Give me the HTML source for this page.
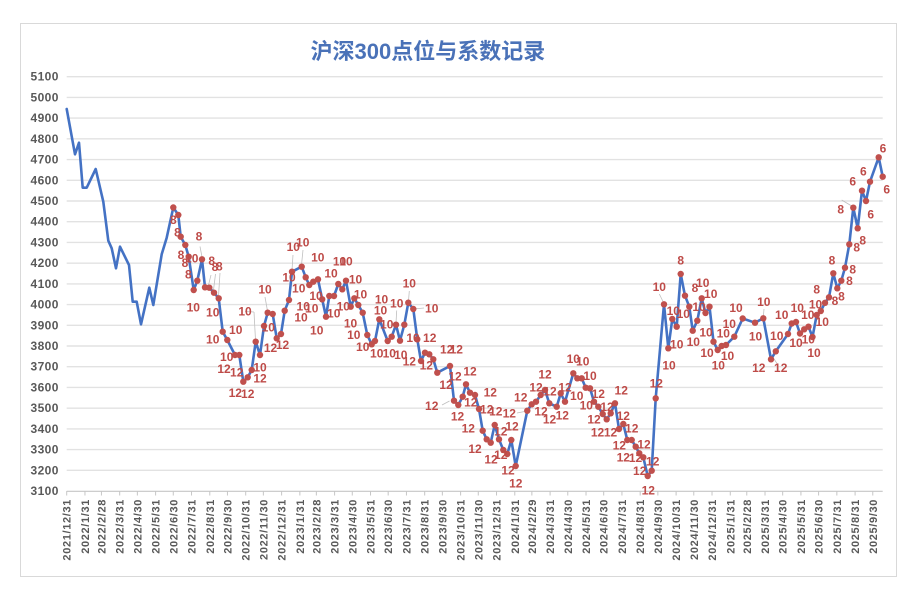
<!DOCTYPE html>
<html><head><meta charset="utf-8"><style>
html,body{margin:0;padding:0;background:#fff;}
svg{display:block;}
#lbl text{dominant-baseline:central;}
#yl text{dominant-baseline:central;}
</style></head><body>
<svg width="920" height="600" viewBox="0 0 920 600" xmlns="http://www.w3.org/2000/svg">
<rect x="0" y="0" width="920" height="600" fill="#fff"/>
<rect x="20.5" y="23.5" width="876" height="553" fill="#fff" stroke="#D9D9D9" stroke-width="1"/>
<text x="310.5" y="59" font-family="'Liberation Sans','Noto Sans CJK SC',sans-serif" font-size="22" font-weight="bold" fill="#4A72B8">沪深300点位与系数记录</text>
<g stroke="#E2E2E2" stroke-width="1.4">
<line x1="66.7" y1="76.7" x2="882.7" y2="76.7"/>
<line x1="66.7" y1="97.4" x2="882.7" y2="97.4"/>
<line x1="66.7" y1="118.1" x2="882.7" y2="118.1"/>
<line x1="66.7" y1="138.85" x2="882.7" y2="138.85"/>
<line x1="66.7" y1="159.6" x2="882.7" y2="159.6"/>
<line x1="66.7" y1="180.3" x2="882.7" y2="180.3"/>
<line x1="66.7" y1="201" x2="882.7" y2="201"/>
<line x1="66.7" y1="221.7" x2="882.7" y2="221.7"/>
<line x1="66.7" y1="242.4" x2="882.7" y2="242.4"/>
<line x1="66.7" y1="263.15" x2="882.7" y2="263.15"/>
<line x1="66.7" y1="283.9" x2="882.7" y2="283.9"/>
<line x1="66.7" y1="304.6" x2="882.7" y2="304.6"/>
<line x1="66.7" y1="325.3" x2="882.7" y2="325.3"/>
<line x1="66.7" y1="346" x2="882.7" y2="346"/>
<line x1="66.7" y1="366.7" x2="882.7" y2="366.7"/>
<line x1="66.7" y1="387.45" x2="882.7" y2="387.45"/>
<line x1="66.7" y1="408.2" x2="882.7" y2="408.2"/>
<line x1="66.7" y1="428.9" x2="882.7" y2="428.9"/>
<line x1="66.7" y1="449.6" x2="882.7" y2="449.6"/>
<line x1="66.7" y1="470.3" x2="882.7" y2="470.3"/>
</g>
<line x1="66.7" y1="491.3" x2="882.7" y2="491.3" stroke="#C6C6C6" stroke-width="1.2"/>
<g stroke="#C6C6C6" stroke-width="1">
<line x1="66.7" y1="491" x2="66.7" y2="495.5"/><line x1="84.95" y1="491" x2="84.95" y2="495.5"/><line x1="101.44" y1="491" x2="101.44" y2="495.5"/><line x1="119.69" y1="491" x2="119.69" y2="495.5"/><line x1="137.36" y1="491" x2="137.36" y2="495.5"/><line x1="155.61" y1="491" x2="155.61" y2="495.5"/><line x1="173.27" y1="491" x2="173.27" y2="495.5"/><line x1="191.53" y1="491" x2="191.53" y2="495.5"/><line x1="209.78" y1="491" x2="209.78" y2="495.5"/><line x1="227.44" y1="491" x2="227.44" y2="495.5"/><line x1="245.7" y1="491" x2="245.7" y2="495.5"/><line x1="263.36" y1="491" x2="263.36" y2="495.5"/><line x1="281.61" y1="491" x2="281.61" y2="495.5"/><line x1="299.86" y1="491" x2="299.86" y2="495.5"/><line x1="316.35" y1="491" x2="316.35" y2="495.5"/><line x1="334.6" y1="491" x2="334.6" y2="495.5"/><line x1="352.27" y1="491" x2="352.27" y2="495.5"/><line x1="370.52" y1="491" x2="370.52" y2="495.5"/><line x1="388.18" y1="491" x2="388.18" y2="495.5"/><line x1="406.44" y1="491" x2="406.44" y2="495.5"/><line x1="424.69" y1="491" x2="424.69" y2="495.5"/><line x1="442.35" y1="491" x2="442.35" y2="495.5"/><line x1="460.61" y1="491" x2="460.61" y2="495.5"/><line x1="478.27" y1="491" x2="478.27" y2="495.5"/><line x1="496.52" y1="491" x2="496.52" y2="495.5"/><line x1="514.78" y1="491" x2="514.78" y2="495.5"/><line x1="531.86" y1="491" x2="531.86" y2="495.5"/><line x1="550.1" y1="491" x2="550.1" y2="495.5"/><line x1="567.77" y1="491" x2="567.77" y2="495.5"/><line x1="586.02" y1="491" x2="586.02" y2="495.5"/><line x1="603.69" y1="491" x2="603.69" y2="495.5"/><line x1="621.94" y1="491" x2="621.94" y2="495.5"/><line x1="640.19" y1="491" x2="640.19" y2="495.5"/><line x1="657.86" y1="491" x2="657.86" y2="495.5"/><line x1="676.11" y1="491" x2="676.11" y2="495.5"/><line x1="693.77" y1="491" x2="693.77" y2="495.5"/><line x1="712.02" y1="491" x2="712.02" y2="495.5"/><line x1="730.28" y1="491" x2="730.28" y2="495.5"/><line x1="746.77" y1="491" x2="746.77" y2="495.5"/><line x1="765.02" y1="491" x2="765.02" y2="495.5"/><line x1="782.68" y1="491" x2="782.68" y2="495.5"/><line x1="800.93" y1="491" x2="800.93" y2="495.5"/><line x1="818.6" y1="491" x2="818.6" y2="495.5"/><line x1="836.85" y1="491" x2="836.85" y2="495.5"/><line x1="855.1" y1="491" x2="855.1" y2="495.5"/><line x1="872.77" y1="491" x2="872.77" y2="495.5"/>
</g>
<g id="yl" font-family="'Liberation Sans',sans-serif" font-size="12" font-weight="bold" fill="#595959" text-anchor="end" letter-spacing="0.4">
<text x="58.8" y="76.7">5100</text><text x="58.8" y="97.4">5000</text><text x="58.8" y="118.1">4900</text><text x="58.8" y="138.85">4800</text><text x="58.8" y="159.6">4700</text><text x="58.8" y="180.3">4600</text><text x="58.8" y="201">4500</text><text x="58.8" y="221.7">4400</text><text x="58.8" y="242.4">4300</text><text x="58.8" y="263.15">4200</text><text x="58.8" y="283.9">4100</text><text x="58.8" y="304.6">4000</text><text x="58.8" y="325.3">3900</text><text x="58.8" y="346">3800</text><text x="58.8" y="366.7">3700</text><text x="58.8" y="387.45">3600</text><text x="58.8" y="408.2">3500</text><text x="58.8" y="428.9">3400</text><text x="58.8" y="449.6">3300</text><text x="58.8" y="470.3">3200</text><text x="58.8" y="491">3100</text>
</g>
<g font-family="'Liberation Sans',sans-serif" font-size="11" font-weight="bold" fill="#595959" text-anchor="end" letter-spacing="0.65">
<text transform="translate(70.7,499) rotate(-90)">2021/12/31</text>
<text transform="translate(88.95,499) rotate(-90)">2022/1/31</text>
<text transform="translate(105.44,499) rotate(-90)">2022/2/28</text>
<text transform="translate(123.69,499) rotate(-90)">2022/3/31</text>
<text transform="translate(141.36,499) rotate(-90)">2022/4/30</text>
<text transform="translate(159.61,499) rotate(-90)">2022/5/31</text>
<text transform="translate(177.27,499) rotate(-90)">2022/6/30</text>
<text transform="translate(195.53,499) rotate(-90)">2022/7/31</text>
<text transform="translate(213.78,499) rotate(-90)">2022/8/31</text>
<text transform="translate(231.44,499) rotate(-90)">2022/9/30</text>
<text transform="translate(249.7,499) rotate(-90)">2022/10/31</text>
<text transform="translate(267.36,499) rotate(-90)">2022/11/30</text>
<text transform="translate(285.61,499) rotate(-90)">2022/12/31</text>
<text transform="translate(303.86,499) rotate(-90)">2023/1/31</text>
<text transform="translate(320.35,499) rotate(-90)">2023/2/28</text>
<text transform="translate(338.6,499) rotate(-90)">2023/3/31</text>
<text transform="translate(356.27,499) rotate(-90)">2023/4/30</text>
<text transform="translate(374.52,499) rotate(-90)">2023/5/31</text>
<text transform="translate(392.18,499) rotate(-90)">2023/6/30</text>
<text transform="translate(410.44,499) rotate(-90)">2023/7/31</text>
<text transform="translate(428.69,499) rotate(-90)">2023/8/31</text>
<text transform="translate(446.35,499) rotate(-90)">2023/9/30</text>
<text transform="translate(464.61,499) rotate(-90)">2023/10/31</text>
<text transform="translate(482.27,499) rotate(-90)">2023/11/30</text>
<text transform="translate(500.52,499) rotate(-90)">2023/12/31</text>
<text transform="translate(518.78,499) rotate(-90)">2024/1/31</text>
<text transform="translate(535.86,499) rotate(-90)">2024/2/29</text>
<text transform="translate(554.1,499) rotate(-90)">2024/3/31</text>
<text transform="translate(571.77,499) rotate(-90)">2024/4/30</text>
<text transform="translate(590.02,499) rotate(-90)">2024/5/31</text>
<text transform="translate(607.69,499) rotate(-90)">2024/6/30</text>
<text transform="translate(625.94,499) rotate(-90)">2024/7/31</text>
<text transform="translate(644.19,499) rotate(-90)">2024/8/31</text>
<text transform="translate(661.86,499) rotate(-90)">2024/9/30</text>
<text transform="translate(680.11,499) rotate(-90)">2024/10/31</text>
<text transform="translate(697.77,499) rotate(-90)">2024/11/30</text>
<text transform="translate(716.02,499) rotate(-90)">2024/12/31</text>
<text transform="translate(734.28,499) rotate(-90)">2025/1/31</text>
<text transform="translate(750.77,499) rotate(-90)">2025/2/28</text>
<text transform="translate(769.02,499) rotate(-90)">2025/3/31</text>
<text transform="translate(786.68,499) rotate(-90)">2025/4/30</text>
<text transform="translate(804.93,499) rotate(-90)">2025/5/31</text>
<text transform="translate(822.6,499) rotate(-90)">2025/6/30</text>
<text transform="translate(840.85,499) rotate(-90)">2025/7/31</text>
<text transform="translate(859.1,499) rotate(-90)">2025/8/31</text>
<text transform="translate(876.77,499) rotate(-90)">2025/9/30</text>
</g>
<g stroke="#BFBFBF" stroke-width="0.8" fill="none">
<line x1="841.7" y1="200" x2="851.7" y2="206"/>
<line x1="200" y1="246.5" x2="202" y2="257"/>
<line x1="211" y1="275" x2="208.5" y2="285"/>
<line x1="215.5" y1="274" x2="213.5" y2="290"/>
<line x1="220" y1="273" x2="218.5" y2="296"/>
<line x1="293" y1="255" x2="292" y2="270"/>
<line x1="303" y1="250" x2="301.5" y2="265"/>
<line x1="245" y1="311.5" x2="254" y2="312"/>
<line x1="254" y1="312" x2="255.5" y2="340"/>
<line x1="265" y1="297" x2="267.5" y2="311"/>
<line x1="409.3" y1="291" x2="408.5" y2="301"/>
<line x1="396.7" y1="310.5" x2="396" y2="323"/>
<line x1="424" y1="308" x2="413.5" y2="309"/>
<line x1="659.3" y1="294" x2="663.5" y2="302.5"/>
<line x1="764" y1="309" x2="763.3" y2="317"/>
<line x1="772" y1="356" x2="778" y2="365"/>
<line x1="517" y1="413" x2="527" y2="411"/>
<line x1="442" y1="405" x2="449.5" y2="401"/>
</g>
<polyline fill="none" stroke="#4472C4" stroke-width="2.6" stroke-linejoin="round" stroke-linecap="round" points="66.7,109 75,154.3 79,142.7 82.7,187.7 86.7,187.7 95.7,169 103.3,201.7 108.3,240.7 111.7,248.3 116,268.3 120,246.7 129,265 132.7,301.7 136.7,301.7 141,324.3 149.3,287.7 153.3,305 161.7,254.3 166.7,237.7 173.3,207.5 178.3,215 180.7,236.7 185.3,245 188.7,256.7 193.7,290 197.3,280.7 202,259.3 205,287.3 209.3,287.7 214,292.7 218.7,298.3 222.7,331.7 227.3,340 235,355 239.3,355 243.3,381.7 247.7,377.3 251.7,370 255.7,341.7 260,355 264,326 267.7,312.7 272.7,314 276.7,338.3 281,334 284.7,310.7 289,300 292,271.7 301.7,266.7 305.7,277.3 309.3,285 313.3,281.7 318,279.3 322.2,299.3 326,316.7 329.3,296 334,296 338.3,284 342.3,289.3 346,280.7 350.7,306.7 354.3,298.3 358.3,305 362.7,312.7 367.3,335 371.7,344.3 375,341 379.3,319.3 387.7,341 391.7,336.7 396,324.7 400,340.7 404.3,324.7 408.3,302.7 413.3,309 417.3,339.3 421,361 425,352.7 429.3,354.3 433.3,359.3 437.3,372.7 450,366 454,400.7 458.3,405 462.7,396.7 466,384.3 470,392.7 475,395 479,409 482.7,430.7 486.7,439.3 490.7,442.7 494.7,425 499,439.3 503.3,450 507.3,454 511.3,440 515.7,466 527.3,410.7 531.7,404.3 536,401.7 540.7,395 545,390 549.3,403.3 556.7,406.7 560.7,393.3 565,401.7 573.3,373.3 577.3,378.3 581.7,378.3 585.7,387.7 590,388.3 594,401.7 598.3,406.7 602.7,414 606.7,419.3 610.7,413.3 615,403.3 619,429 623.3,424 627.3,440 631.7,440 635.7,446.7 639.3,453.3 643.3,457.3 647.7,476 651.7,470.7 655.7,398.3 664,304.3 668.3,348.3 672.3,319 676.7,326.7 680.7,274 685,295.7 689.3,306.7 692.7,330.7 697.3,320.7 701.7,298.3 705.5,313 709.5,306.7 713.5,341.7 717.7,350 721.7,346 726,345 734.3,336.7 742.7,318.5 755,322.7 763.3,318.3 771,359.3 775.8,351.3 788,334 791.7,323.5 796,322 800,333.5 804.2,329.3 808.5,326.7 812.5,337 816.7,315 820.8,311 825,302.8 829,297.3 833.3,273.3 837.3,288.3 841.3,280.7 845,267.7 849.3,244.3 853.3,207.7 857.7,228.3 862,190.7 866,201 870,181.7 878.7,157.3 882.7,176.7"/>
<g fill="#C0504D">
<circle cx="173.3" cy="207.5" r="3.2"/><circle cx="178.3" cy="215" r="3.2"/><circle cx="180.7" cy="236.7" r="3.2"/><circle cx="185.3" cy="245" r="3.2"/><circle cx="188.7" cy="256.7" r="3.2"/><circle cx="193.7" cy="290" r="3.2"/><circle cx="197.3" cy="280.7" r="3.2"/><circle cx="202" cy="259.3" r="3.2"/><circle cx="205" cy="287.3" r="3.2"/><circle cx="209.3" cy="287.7" r="3.2"/><circle cx="214" cy="292.7" r="3.2"/><circle cx="218.7" cy="298.3" r="3.2"/><circle cx="222.7" cy="331.7" r="3.2"/><circle cx="227.3" cy="340" r="3.2"/><circle cx="235" cy="355" r="3.2"/><circle cx="239.3" cy="355" r="3.2"/><circle cx="243.3" cy="381.7" r="3.2"/><circle cx="247.7" cy="377.3" r="3.2"/><circle cx="251.7" cy="370" r="3.2"/><circle cx="255.7" cy="341.7" r="3.2"/><circle cx="260" cy="355" r="3.2"/><circle cx="264" cy="326" r="3.2"/><circle cx="267.7" cy="312.7" r="3.2"/><circle cx="272.7" cy="314" r="3.2"/><circle cx="276.7" cy="338.3" r="3.2"/><circle cx="281" cy="334" r="3.2"/><circle cx="284.7" cy="310.7" r="3.2"/><circle cx="289" cy="300" r="3.2"/><circle cx="292" cy="271.7" r="3.2"/><circle cx="301.7" cy="266.7" r="3.2"/><circle cx="305.7" cy="277.3" r="3.2"/><circle cx="309.3" cy="285" r="3.2"/><circle cx="313.3" cy="281.7" r="3.2"/><circle cx="318" cy="279.3" r="3.2"/><circle cx="322.2" cy="299.3" r="3.2"/><circle cx="326" cy="316.7" r="3.2"/><circle cx="329.3" cy="296" r="3.2"/><circle cx="334" cy="296" r="3.2"/><circle cx="338.3" cy="284" r="3.2"/><circle cx="342.3" cy="289.3" r="3.2"/><circle cx="346" cy="280.7" r="3.2"/><circle cx="350.7" cy="306.7" r="3.2"/><circle cx="354.3" cy="298.3" r="3.2"/><circle cx="358.3" cy="305" r="3.2"/><circle cx="362.7" cy="312.7" r="3.2"/><circle cx="367.3" cy="335" r="3.2"/><circle cx="371.7" cy="344.3" r="3.2"/><circle cx="375" cy="341" r="3.2"/><circle cx="379.3" cy="319.3" r="3.2"/><circle cx="387.7" cy="341" r="3.2"/><circle cx="391.7" cy="336.7" r="3.2"/><circle cx="396" cy="324.7" r="3.2"/><circle cx="400" cy="340.7" r="3.2"/><circle cx="404.3" cy="324.7" r="3.2"/><circle cx="408.3" cy="302.7" r="3.2"/><circle cx="413.3" cy="309" r="3.2"/><circle cx="417.3" cy="339.3" r="3.2"/><circle cx="421" cy="361" r="3.2"/><circle cx="425" cy="352.7" r="3.2"/><circle cx="429.3" cy="354.3" r="3.2"/><circle cx="433.3" cy="359.3" r="3.2"/><circle cx="437.3" cy="372.7" r="3.2"/><circle cx="450" cy="366" r="3.2"/><circle cx="454" cy="400.7" r="3.2"/><circle cx="458.3" cy="405" r="3.2"/><circle cx="462.7" cy="396.7" r="3.2"/><circle cx="466" cy="384.3" r="3.2"/><circle cx="470" cy="392.7" r="3.2"/><circle cx="475" cy="395" r="3.2"/><circle cx="479" cy="409" r="3.2"/><circle cx="482.7" cy="430.7" r="3.2"/><circle cx="486.7" cy="439.3" r="3.2"/><circle cx="490.7" cy="442.7" r="3.2"/><circle cx="494.7" cy="425" r="3.2"/><circle cx="499" cy="439.3" r="3.2"/><circle cx="503.3" cy="450" r="3.2"/><circle cx="507.3" cy="454" r="3.2"/><circle cx="511.3" cy="440" r="3.2"/><circle cx="515.7" cy="466" r="3.2"/><circle cx="527.3" cy="410.7" r="3.2"/><circle cx="531.7" cy="404.3" r="3.2"/><circle cx="536" cy="401.7" r="3.2"/><circle cx="540.7" cy="395" r="3.2"/><circle cx="545" cy="390" r="3.2"/><circle cx="549.3" cy="403.3" r="3.2"/><circle cx="556.7" cy="406.7" r="3.2"/><circle cx="560.7" cy="393.3" r="3.2"/><circle cx="565" cy="401.7" r="3.2"/><circle cx="573.3" cy="373.3" r="3.2"/><circle cx="577.3" cy="378.3" r="3.2"/><circle cx="581.7" cy="378.3" r="3.2"/><circle cx="585.7" cy="387.7" r="3.2"/><circle cx="590" cy="388.3" r="3.2"/><circle cx="594" cy="401.7" r="3.2"/><circle cx="598.3" cy="406.7" r="3.2"/><circle cx="602.7" cy="414" r="3.2"/><circle cx="606.7" cy="419.3" r="3.2"/><circle cx="610.7" cy="413.3" r="3.2"/><circle cx="615" cy="403.3" r="3.2"/><circle cx="619" cy="429" r="3.2"/><circle cx="623.3" cy="424" r="3.2"/><circle cx="627.3" cy="440" r="3.2"/><circle cx="631.7" cy="440" r="3.2"/><circle cx="635.7" cy="446.7" r="3.2"/><circle cx="639.3" cy="453.3" r="3.2"/><circle cx="643.3" cy="457.3" r="3.2"/><circle cx="647.7" cy="476" r="3.2"/><circle cx="651.7" cy="470.7" r="3.2"/><circle cx="655.7" cy="398.3" r="3.2"/><circle cx="664" cy="304.3" r="3.2"/><circle cx="668.3" cy="348.3" r="3.2"/><circle cx="672.3" cy="319" r="3.2"/><circle cx="676.7" cy="326.7" r="3.2"/><circle cx="680.7" cy="274" r="3.2"/><circle cx="685" cy="295.7" r="3.2"/><circle cx="689.3" cy="306.7" r="3.2"/><circle cx="692.7" cy="330.7" r="3.2"/><circle cx="697.3" cy="320.7" r="3.2"/><circle cx="701.7" cy="298.3" r="3.2"/><circle cx="705.5" cy="313" r="3.2"/><circle cx="709.5" cy="306.7" r="3.2"/><circle cx="713.5" cy="341.7" r="3.2"/><circle cx="717.7" cy="350" r="3.2"/><circle cx="721.7" cy="346" r="3.2"/><circle cx="726" cy="345" r="3.2"/><circle cx="734.3" cy="336.7" r="3.2"/><circle cx="742.7" cy="318.5" r="3.2"/><circle cx="755" cy="322.7" r="3.2"/><circle cx="763.3" cy="318.3" r="3.2"/><circle cx="771" cy="359.3" r="3.2"/><circle cx="775.8" cy="351.3" r="3.2"/><circle cx="788" cy="334" r="3.2"/><circle cx="791.7" cy="323.5" r="3.2"/><circle cx="796" cy="322" r="3.2"/><circle cx="800" cy="333.5" r="3.2"/><circle cx="804.2" cy="329.3" r="3.2"/><circle cx="808.5" cy="326.7" r="3.2"/><circle cx="812.5" cy="337" r="3.2"/><circle cx="816.7" cy="315" r="3.2"/><circle cx="820.8" cy="311" r="3.2"/><circle cx="825" cy="302.8" r="3.2"/><circle cx="829" cy="297.3" r="3.2"/><circle cx="833.3" cy="273.3" r="3.2"/><circle cx="837.3" cy="288.3" r="3.2"/><circle cx="841.3" cy="280.7" r="3.2"/><circle cx="845" cy="267.7" r="3.2"/><circle cx="849.3" cy="244.3" r="3.2"/><circle cx="853.3" cy="207.7" r="3.2"/><circle cx="857.7" cy="228.3" r="3.2"/><circle cx="862" cy="190.7" r="3.2"/><circle cx="866" cy="201" r="3.2"/><circle cx="870" cy="181.7" r="3.2"/><circle cx="878.7" cy="157.3" r="3.2"/><circle cx="882.7" cy="176.7" r="3.2"/>
</g>
<g id="lbl" font-family="'Liberation Sans',sans-serif" font-size="12" font-weight="bold" fill="#BE4B48" text-anchor="middle">
<text x="173.3" y="220">8</text><text x="177.5" y="232.7">8</text><text x="181" y="255">8</text><text x="185" y="263">8</text><text x="191.7" y="258.3">10</text><text x="188.3" y="274.5">8</text><text x="199" y="236.7">8</text><text x="211.7" y="261">8</text><text x="215" y="267">8</text><text x="219.3" y="266.5">8</text>
<text x="193.3" y="307.3">10</text><text x="212.7" y="312.7">10</text><text x="212.7" y="339.3">10</text><text x="235.7" y="330">10</text><text x="245" y="311.7">10</text><text x="226.7" y="357">10</text>
<text x="224" y="369">12</text><text x="236.7" y="372.7">12</text><text x="235.3" y="393">12</text><text x="247.7" y="394">12</text><text x="260" y="367.5">10</text><text x="260" y="378.7">12</text><text x="265" y="289.5">10</text><text x="268.3" y="327.7">10</text><text x="270.5" y="348">12</text><text x="282.5" y="345">12</text>
<text x="293.3" y="247">10</text><text x="302.7" y="242.7">10</text><text x="289" y="277.7">10</text><text x="298.7" y="288.5">10</text><text x="317.8" y="257.3">10</text><text x="316" y="296">10</text><text x="303.2" y="306.3">10</text><text x="311.7" y="308.3">10</text><text x="301" y="317.5">10</text><text x="316.7" y="330.3">10</text>
<text x="331" y="273.5">10</text><text x="339.5" y="261.5">10</text><text x="346" y="261.5">10</text><text x="355.5" y="279.3">10</text><text x="360.5" y="294.3">10</text><text x="343.3" y="306.7">10</text><text x="333.7" y="313.3">10</text><text x="350.5" y="323.7">10</text><text x="353.8" y="335">10</text><text x="362.7" y="347">10</text>
<text x="381.5" y="299.3">10</text><text x="380.5" y="310.7">10</text><text x="396.7" y="303.3">10</text><text x="409.3" y="283.7">10</text><text x="431.7" y="308.3">10</text><text x="386.7" y="324.5">10</text><text x="376.7" y="353.5">10</text><text x="389.3" y="353.5">10</text><text x="400.8" y="355">10</text><text x="413" y="338">10</text>
<text x="409.3" y="361.7">12</text><text x="426.3" y="365.5">12</text><text x="429.7" y="337.8">12</text><text x="446.7" y="349.3">12</text><text x="456.3" y="349.3">12</text><text x="446" y="385">12</text><text x="455" y="376.5">12</text><text x="470" y="371.7">12</text><text x="431.7" y="406">12</text><text x="457.5" y="416.3">12</text>
<text x="468.3" y="428.3">12</text><text x="470.8" y="402.5">12</text><text x="490.3" y="392.7">12</text><text x="486.7" y="409.7">12</text><text x="495.8" y="411.7">12</text><text x="509.3" y="413.7">12</text><text x="520.7" y="397.5">12</text><text x="512" y="426.7">12</text><text x="500.8" y="431.7">12</text><text x="475" y="448.8">12</text>
<text x="491" y="459.3">12</text><text x="500.8" y="455">12</text><text x="508" y="470.5">12</text><text x="515.8" y="483.3">12</text>
<text x="536" y="387.5">12</text><text x="545" y="374.5">12</text><text x="550" y="391.7">12</text><text x="565" y="387.5">12</text><text x="541" y="411.7">12</text><text x="549.5" y="419.7">12</text><text x="562.3" y="415.5">12</text>
<text x="573.3" y="358.8">10</text><text x="582.7" y="361.7">10</text><text x="590" y="376">10</text><text x="576.7" y="396">10</text><text x="586.3" y="405.5">10</text>
<text x="598.3" y="394">12</text><text x="607" y="407">12</text><text x="594" y="419.3">12</text><text x="597.5" y="432.7">12</text><text x="610.5" y="432.7">12</text><text x="621.2" y="390.3">12</text><text x="623.3" y="415.8">12</text><text x="631.7" y="428.7">12</text><text x="619.3" y="445.5">12</text><text x="623.3" y="457.3">12</text>
<text x="635.5" y="457.8">12</text><text x="644" y="444.5">12</text><text x="639.7" y="470.8">12</text><text x="652.7" y="461.7">12</text><text x="648.3" y="490.3">12</text><text x="656.3" y="383.7">12</text>
<text x="659.3" y="287">10</text><text x="669" y="365.5">10</text><text x="676.7" y="344.5">10</text><text x="673.3" y="311.2">10</text><text x="683.3" y="314">10</text><text x="680.7" y="260.5">8</text><text x="695" y="288">8</text><text x="702.7" y="283">10</text><text x="710.7" y="294">10</text><text x="699" y="307">10</text>
<text x="693.3" y="342">10</text><text x="706" y="332.7">10</text><text x="707" y="353">10</text><text x="718.3" y="365.5">10</text><text x="723.3" y="333.3">10</text><text x="729.3" y="324">10</text><text x="736" y="308">10</text><text x="727.5" y="356">10</text><text x="763.8" y="302.2">10</text><text x="755.5" y="336.3">10</text>
<text x="758.8" y="367.8">12</text><text x="780.7" y="367.8">12</text><text x="776.7" y="336">10</text><text x="781.7" y="315">10</text><text x="796" y="343">10</text><text x="797.3" y="307.8">10</text><text x="807.8" y="315">10</text><text x="815.5" y="304.5">10</text><text x="808.3" y="339.3">10</text><text x="814" y="353">10</text>
<text x="822.2" y="322.2">10</text><text x="816.7" y="289.3">8</text><text x="832" y="260.5">8</text><text x="835" y="301.2">8</text><text x="841.5" y="296.5">8</text><text x="849.5" y="281">8</text><text x="852.7" y="269.3">8</text><text x="856.7" y="247.5">8</text><text x="862.7" y="240.7">8</text><text x="840.7" y="209.5">8</text>
<text x="852.7" y="181.3">6</text><text x="863.3" y="171.7">6</text><text x="870.7" y="214.7">6</text><text x="883" y="148.3">6</text><text x="886.7" y="189.3">6</text>
</g>
</svg>
</body></html>
